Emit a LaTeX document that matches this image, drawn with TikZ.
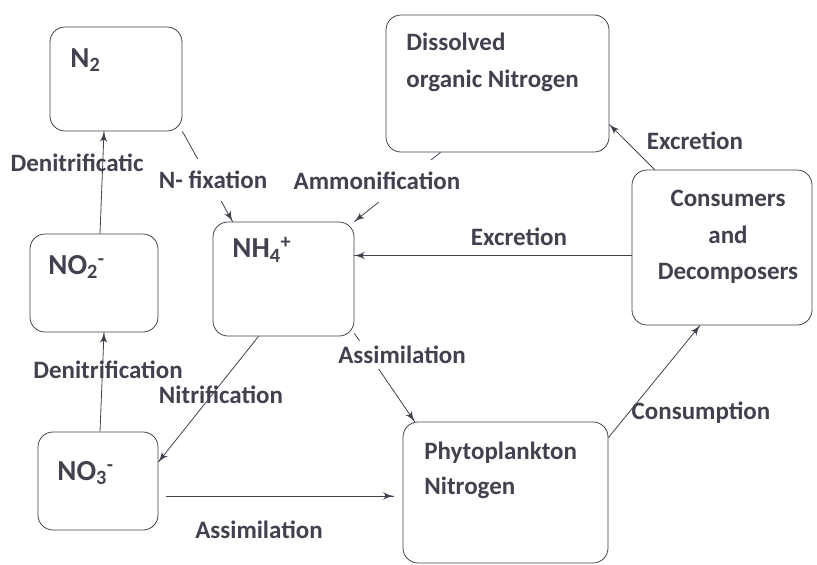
\documentclass[tikz,border=0pt]{standalone}
\usepackage{fontspec}
\setmainfont{Carlito}
\usepackage{tikz}
\usetikzlibrary{arrows}
\usetikzlibrary{decorations.markings}
\usetikzlibrary{positioning}
\tikzset{flow/.style = {decoration={markings,
                                   mark=at position 1 with {\arrow[scale=2]{latex'}}},
                        postaction={decorate}}}
\tikzset{box/.style = {draw, rounded corners=15pt, inner sep=0}}
\tikzset{lbl/.style = {font=\fontsize{25}{29}\selectfont\bfseries, inner sep=2pt}}
\tikzset{gaplbl/.style = {lbl, fill=white, inner xsep=4pt, inner ysep=12pt}}
\tikzset{chem/.style = {font=\fontsize{29}{34}\selectfont\bfseries, anchor=west, inner sep=0}}
\definecolor{mgrey}{rgb}{0.26, 0.26, 0.31}

\begin{document}
\begin{tikzpicture}[x=1pt, y=-1pt, mgrey, line width=0.8pt]
    \useasboundingbox[fill=white] (0, 0) rectangle (817, 565);
    % boxes
    \node [box, minimum width=132, minimum height=104] (n2) at (116, 79) {};
    \node [box, minimum width=128, minimum height=98] (no2) at (94, 283) {};
    \node [box, minimum width=141, minimum height=114] (nh4) at (283.5, 279) {};
    \node [box, minimum width=120, minimum height=98] (no3) at (98, 481) {};
    \node [box, minimum width=223, minimum height=137] (don) at (497.5, 83.5) {};
    \node [box, minimum width=180, minimum height=155] (cons) at (722, 247.5) {};
    \node [box, minimum width=205, minimum height=141] (phyto) at (505.5, 492.5) {};
    % box texts
    \node [chem] (n2txt) at (70, 60) {N\textsubscript{2}};
    \node [chem] (no2txt) at (48, 267) {NO\textsubscript{2}\textsuperscript{-}};
    \node [chem] (nh4txt) at (232, 250) {NH\textsubscript{4}\textsuperscript{+}};
    \node [chem] (no3txt) at (57, 473) {NO\textsubscript{3}\textsuperscript{-}};
    \node [lbl, anchor=west, align=left, font=\fontsize{25}{37}\selectfont\bfseries] (dontxt) at (404, 62) {Dissolved\\organic Nitrogen};
    \node [lbl, align=center, font=\fontsize{25}{36.5}\selectfont\bfseries] (constxt) at (728, 237) {Consumers\\and\\Decomposers};
    \node [lbl, anchor=west, align=left, font=\fontsize{25}{35}\selectfont\bfseries] (phytotxt) at (422, 470) {Phytoplankton\\Nitrogen};
    % connectors
    \draw [flow] ([xshift=6pt]no2.north) -- ([xshift=-12pt]n2.south);
    \draw [flow] (n2.south east) -- ([xshift=20pt]nh4.north west);
    \draw [flow] ([xshift=-57pt]don.south) -- (nh4.north east);
    \draw [flow] ([yshift=-8pt]cons.west) -- ([yshift=-8pt]cons.west -| nh4.east);
    \draw [flow] ([xshift=23pt]cons.north west) -- ([yshift=-41pt]don.east);
    \draw [flow] ([xshift=-25pt]nh4.south) -- ([yshift=19pt]no3.east);
    \draw [flow] ([xshift=2pt]no3.north) -- ([xshift=10pt]no2.south);
    \draw [flow] ([yshift=3pt]nh4.south east) -- ([xshift=12pt]phyto.north west);
    \draw [flow, shorten <=8pt] ([yshift=-15pt]no3.east) -- ([yshift=-15pt, xshift=-9pt]no3.east -| phyto.west);
    \draw [flow] ([yshift=-16pt]phyto.north east) -- ([xshift=-22pt]cons.south);
    % labels
    \node [lbl] (denitA) at (77, 163) {Denitrificatic};
    \node [gaplbl] (nfix) at (213, 180) {N- fixation};
    \node [gaplbl] (ammon) at (377, 181) {Ammonification};
    \node [lbl] (excrA) at (519, 237) {Excretion};
    \node [lbl] (excrB) at (695, 141) {Excretion};
    \node [lbl] (denitB) at (108, 370) {Denitrification};
    \node [lbl] (nitri) at (221, 395) {Nitrification};
    \node [gaplbl, inner ysep=5pt] (assimA) at (402, 355) {Assimilation};
    \node [lbl] (consum) at (701, 413) {Consumption};
    \node [lbl] (assimB) at (259, 530) {Assimilation};
  \end{tikzpicture}
\end{document}
